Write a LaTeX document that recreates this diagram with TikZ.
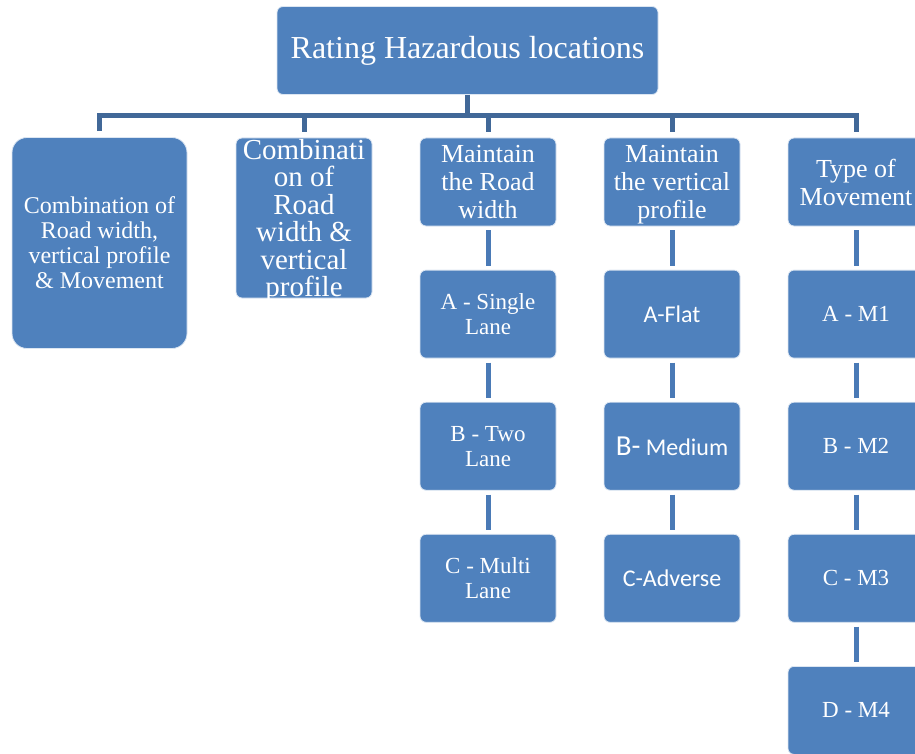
\documentclass[tikz,border=0pt]{standalone}
\usepackage{fontspec}
\setmainfont{Liberation Serif}
\newfontfamily\calibri{Carlito}
\usetikzlibrary{positioning}
\definecolor{boxblue}{RGB}{79,129,189}
\definecolor{busblue}{RGB}{65,104,152}
\definecolor{linkblue}{RGB}{74,122,182}
\tikzset{box/.style={draw=white!80!boxblue, line width=0.8pt, fill=boxblue, rounded corners=6pt, text=white, align=center, minimum width=136pt, minimum height=88pt, inner sep=1pt}}

\begin{document}
\begin{tikzpicture}[x=1pt, y=-1pt,
		node distance=43.3pt,
		head/.style={box, font=\rmfamily\fontsize{26}{28}\selectfont},
		leaf/.style={box, font=\rmfamily\fontsize{23}{25}\selectfont},
		sansleaf/.style={box, font=\calibri\fontsize{24}{26}\selectfont},
		bus/.style={draw=busblue, line width=5pt},
		link/.style={draw=linkblue, line width=5pt, shorten >=4pt, shorten <=4pt}
		]
		\useasboundingbox (0,0) rectangle (915,754);
		
		% Top of the tree
		\node[box, minimum width=381pt, font=\rmfamily\fontsize{32}{34}\selectfont] (root) at (467.5,50.5) {Rating Hazardous locations};
		\coordinate (hub) at (467.5,116);
		
		% Second level
		\node[box, minimum width=175pt, minimum height=211pt, rounded corners=15pt, font=\rmfamily\fontsize{24}{25}\selectfont] (cvm) at (99.5,243) {Combination of\\Road width,\\vertical profile\\\& Movement};
		\node[box, minimum height=160pt, label={[text=white, align=center, yshift=-3pt, font=\rmfamily\fontsize{29}{27.5}\selectfont]center:Combinati\\on of\\Road\\width \&\\vertical\\profile}] (comb) at (304,218) {};
		\node[head] (rw) at (488,182) {Maintain\\the Road\\width};
		\node[head] (vp) at (672,182) {Maintain\\the vertical\\\raisebox{0pt}[\height][0pt]{profile}};
		\node[head] (typ) at (856,182) {Type of\\Movement};
		
		% Road width
		\node[leaf, below=of rw] (rwA) {A - Single\\Lane};
		\node[leaf, below=of rwA] (rwB) {B - Two\\Lane};
		\node[leaf, below=of rwB] (rwC) {C - Multi\\Lane};
		
		% Vertical profile
		\node[sansleaf, below=of vp] (vpA) {A-Flat};
		\node[sansleaf, below=of vpA] (vpB) {{\fontsize{29}{30}\selectfont B-} Medium};
		\node[sansleaf, below=of vpB] (vpC) {C-Adverse};
		
		% Movement
		\node[leaf, below=of typ] (typA) {A - M1};
		\node[leaf, below=of typA] (typB) {B - M2};
		\node[leaf, below=of typB] (typC) {C - M3};
		\node[leaf, below=of typC] (typD) {D - M4};
		
		\draw[bus] (root.south) -- (hub);
		\draw[bus, shorten <=6pt, shorten >=6pt] (cvm.north) |- (hub) -| (typ.north);
		\foreach \n in {comb, rw, vp}
			\draw[bus, shorten >=6pt] (hub -| \n.north) -- (\n.north);
		
		\foreach \a/\b in {rw/rwA, rwA/rwB, rwB/rwC, vp/vpA, vpA/vpB, vpB/vpC, typ/typA, typA/typB, typB/typC, typC/typD}
			\draw[link] (\a) -- (\b);
		
	\end{tikzpicture}
\end{document}
